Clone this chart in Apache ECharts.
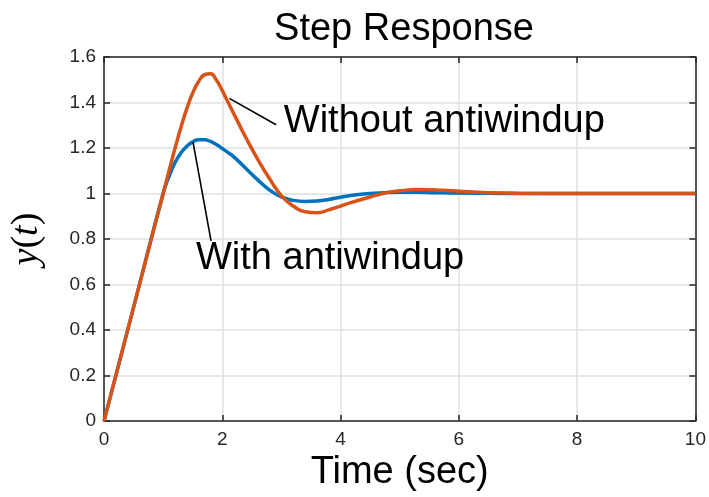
<!DOCTYPE html>
<html>
<head>
<meta charset="utf-8">
<script src="https://cdn.jsdelivr.net/npm/echarts@6/dist/echarts.min.js"></script>
<style>
html, body { margin: 0; padding: 0; background: #fff; }
#main { width: 709px; height: 497px; }
</style>
</head>
<body>
<div id="main"></div>
<script>
// step response
const time = [0, 0.5, 1.0, 1.1, 1.2, 1.3, 1.4, 1.5, 1.6, 1.7, 1.8, 1.9, 2.0, 2.1, 2.2, 2.4, 2.6, 2.8, 3.0, 3.2, 3.4, 3.6, 3.8, 4.0, 4.2, 4.5, 4.8, 5.0, 5.3, 5.6, 6.0, 6.5, 7.0, 8.0, 9.0, 10.0]
const withAntiwindup = [0, 0.5, 1.0, 1.075, 1.135, 1.178, 1.208, 1.227, 1.236, 1.236, 1.229, 1.215, 1.198, 1.18, 1.16, 1.11, 1.06, 1.015, 0.985, 0.97, 0.965, 0.967, 0.974, 0.984, 0.992, 1.0, 1.005, 1.006, 1.006, 1.004, 1.002, 1.001, 1.0, 1.0, 1.0, 1.0]
const withoutAntiwindup = [0, 0.5, 1.0, 1.1, 1.198, 1.29, 1.373, 1.442, 1.492, 1.522, 1.526, 1.499, 1.452, 1.4, 1.348, 1.245, 1.15, 1.065, 0.99, 0.945, 0.92, 0.916, 0.928, 0.945, 0.962, 0.985, 1.005, 1.012, 1.018, 1.016, 1.01, 1.004, 1.001, 1.0, 1.0, 1.0]
const seriesNames = ['With antiwindup', 'Without antiwindup']

const font = 'Liberation Sans'
const axisColor = '#262626'

const pairs = (ys) => time.map((t, i) => [t, ys[i]])

function axisBase(min, max, interval) {
  return {
    type: 'value',
    min: min,
    max: max,
    interval: interval,
    axisLine: { show: true, onZero: false, lineStyle: { color: axisColor, width: 1.5 } },
    axisTick: { show: true, inside: true, length: 6, lineStyle: { color: axisColor, width: 1.5 } }
  }
}

const myChart = echarts.init(document.getElementById('main'))
myChart.setOption({
  animation: false,
  title: {
    text: 'Step Response',
    left: 399,
    top: 6,
    textAlign: 'center',
    textStyle: { fontFamily: font, fontSize: 38, fontWeight: 'normal', color: '#000' }
  },
  grid: { left: 100, right: 11, top: 57, bottom: 71, containLabel: false },
  xAxis: [
    Object.assign(axisBase(0, 10, 2), {
      position: 'bottom',
      axisLabel: { margin: 9, fontFamily: font, fontSize: 19, color: axisColor },
      splitLine: { show: true, lineStyle: { color: '#dfdfdf', width: 1.5 } },
      name: 'Time (sec)',
      nameLocation: 'middle',
      nameGap: 31,
      nameTextStyle: { fontFamily: font, fontSize: 38, color: '#000' }
    }),
    Object.assign(axisBase(0, 10, 2), {
      position: 'top',
      axisLabel: { show: false },
      splitLine: { show: false }
    })
  ],
  yAxis: [
    Object.assign(axisBase(0, 1.6, 0.2), {
      position: 'left',
      axisLabel: { margin: 8, fontFamily: font, fontSize: 19, color: axisColor },
      splitLine: { show: true, lineStyle: { color: '#dfdfdf', width: 1.5 } },
      name: '{i|y}{n|(}{i|t}{n|)}',
      nameLocation: 'middle',
      nameRotate: 90,
      nameGap: 58,
      nameTextStyle: {
        rich: {
          i: { fontFamily: 'Liberation Serif', fontStyle: 'italic', fontSize: 38, color: '#000' },
          n: { fontFamily: 'Liberation Serif', fontSize: 38, color: '#000' }
        }
      }
    }),
    Object.assign(axisBase(0, 1.6, 0.2), {
      position: 'right',
      axisLabel: { show: false },
      splitLine: { show: false }
    })
  ],
  series: [
    {
      name: seriesNames[0],
      type: 'line',
      data: pairs(withAntiwindup),
      smooth: 0.5,
      showSymbol: false,
      lineStyle: { color: '#0072BD', width: 3.5 }
    },
    {
      name: seriesNames[1],
      type: 'line',
      data: pairs(withoutAntiwindup),
      smooth: 0.5,
      showSymbol: false,
      lineStyle: { color: '#D95319', width: 3.5 },
      markLine: {
        silent: true,
        symbol: 'none',
        label: { show: false },
        lineStyle: { color: '#000', width: 1.6, type: 'solid' },
        data: [
          [{ coord: [2.12, 1.418] }, { coord: [2.91, 1.302] }],
          [{ coord: [1.505, 1.226] }, { coord: [1.81, 0.792] }]
        ]
      }
    },
    {
      type: 'scatter',
      silent: true,
      symbolSize: 0,
      itemStyle: { opacity: 1 },
      label: {
        show: true,
        position: 'right',
        distance: 0,
        fontFamily: font,
        fontSize: 38,
        color: '#000',
        opacity: 1,
        formatter: (p) => p.name
      },
      data: [
        { name: seriesNames[1], value: [3.04, 1.318] },
        { name: seriesNames[0], value: [1.555, 0.716] }
      ]
    }
  ]
})
</script>
</body>
</html>
